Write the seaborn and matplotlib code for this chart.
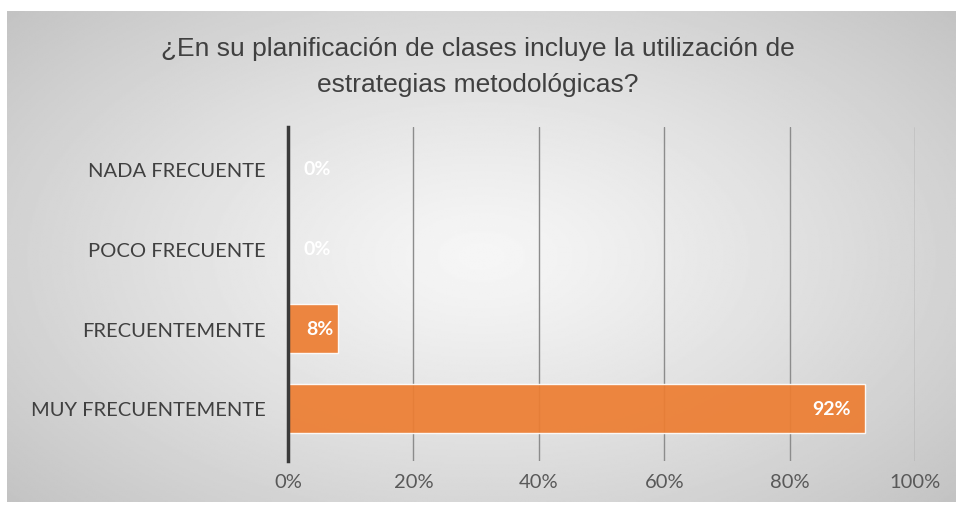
import numpy as np
import pandas as pd
import matplotlib
matplotlib.use("Agg")
import matplotlib.pyplot as plt
import seaborn as sns

# ==============================
# DATOS
# ==============================
categorias = ["NADA FRECUENTE", "POCO FRECUENTE", "FRECUENTEMENTE", "MUY FRECUENTEMENTE"]
porcentajes = [0.0, 0.0, 0.08, 0.92]
ticks_x = [0.0, 0.2, 0.4, 0.6, 0.8, 1.0]
etiquetas_x = ["0%", "20%", "40%", "60%", "80%", "100%"]
titulo = "¿En su planificación de clases incluye la utilización de\nestrategias metodológicas?"

df = pd.DataFrame({"categoria": categorias, "valor": porcentajes})

sns.set_theme(style="white")
plt.rcParams["font.family"] = ["Lato", "DejaVu Sans"]

W, H = 956, 506
fig = plt.figure(figsize=(W / 100, H / 100), dpi=100)
fig.patch.set_facecolor("white")

# ==============================
# FONDO DEGRADADO (radial)
# ==============================
bg = fig.add_axes([7 / W, 3 / H, (W - 7) / W, (H - 15) / H], zorder=0)
yy, xx = np.mgrid[-1:1:300j, -1:1:600j]
r = np.sqrt(xx ** 2 + (yy * 0.9) ** 2) / np.sqrt(1 + 0.81)
grad = 0.965 - 0.2 * r ** 1.2
bg.imshow(grad, cmap="gray", vmin=0, vmax=1, aspect="auto", extent=[0, 1, 0, 1])
bg.axis("off")

# ==============================
# GRÁFICO DE BARRAS
# ==============================
ax = fig.add_axes([288 / W, 1 - 462 / H, (915 - 288) / W, (462 - 128) / H], zorder=1)
ax.patch.set_alpha(0)
sns.barplot(data=df, x="valor", y="categoria", orient="h", color="#ED7D31",
            width=0.61, saturation=1, ax=ax, zorder=3)
for p in ax.patches:
    p.set_alpha(0.92)

ax.set_xlim(0, 1)
ax.set_ylim(3.66, -0.525)
ax.set_xticks(ticks_x)
ax.set_xticklabels(etiquetas_x)
ax.set_xlabel("")
ax.set_ylabel("")

ax.grid(axis="x", color="#8c8c8c", linewidth=1.0)
ax.grid(axis="y", visible=False)
ax.set_axisbelow(True)
for s in ["top", "right", "bottom"]:
    ax.spines[s].set_visible(False)
ax.spines["left"].set_color("#3a3a3a")
ax.spines["left"].set_linewidth(2.5)
ax.spines["left"].set_zorder(5)

ax.tick_params(axis="x", length=0, pad=9, labelsize=14.5, labelcolor="#595959")
ax.tick_params(axis="y", length=0, pad=16, labelsize=14.5, labelcolor="#404040")

# Etiquetas de datos
for i, v in enumerate(porcentajes):
    txt = f"{v:.0%}"
    if v == 0:
        ax.annotate(txt, (v, i), xytext=(11, 0), textcoords="offset points",
                    ha="left", va="center", color="white", fontsize=14,
                    fontweight="bold", zorder=6)
    else:
        dx = -3 if v < 0.15 else -10
        ax.annotate(txt, (v, i), xytext=(dx, 0), textcoords="offset points",
                    ha="right", va="center", color="white", fontsize=14,
                    fontweight="bold", zorder=6)

# Título
fig.text(0.5, 1 - 67 / H, titulo, ha="center", va="center", fontsize=19,
         color="#404040", family=["Liberation Sans", "DejaVu Sans"], linespacing=1.6)

fig.savefig("out.png", dpi=100)
